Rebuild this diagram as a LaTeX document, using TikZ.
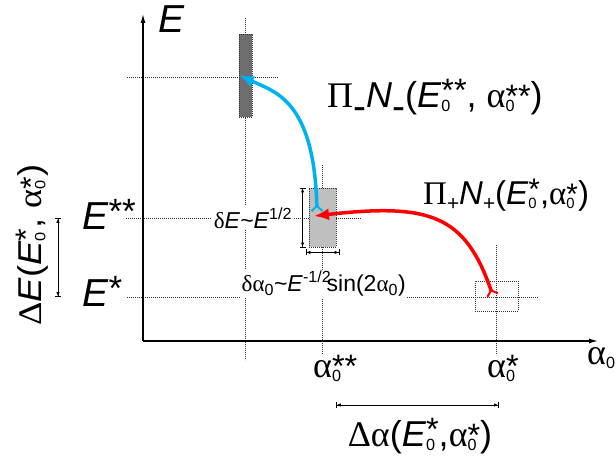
\documentclass[tikz,border=0pt]{standalone}
\usepackage{graphicx}
\usepackage{fontspec}
\setmainfont{Liberation Sans}
\newfontfamily\grk{Liberation Serif}
\usetikzlibrary{arrows.meta}
\definecolor{biru}{HTML}{00B0F0}
\definecolor{merah}{HTML}{FF0000}
% indeks atas dan bawah bertumpuk: #1 naik, #2 atas, #3 bawah
\newcommand{\ps}[3]{%
  \setbox0\hbox{\raisebox{#1}{\scalebox{0.9}{#2}}}%
  \setbox2\hbox{\raisebox{-0.1em}{\scalebox{0.45}{#3}}}%
  \ifdim\wd0<\wd2 \wd0=\wd2\fi\rlap{\box2}\box0}
\newcommand{\Es}[2]{\textit{E}\ps{0.17em}{#1}{#2}}
\newcommand{\as}[2]{{\grk α}\ps{0em}{#1}{#2}}
\tikzset{
  titik/.style={black!80, line width=0.8pt, dash pattern=on 0.8pt off 1.2pt},
  ukur/.style={line width=0.8pt, {Bar[width=6pt]Latex[length=4pt,width=3.5pt]}-{Latex[length=4pt,width=3.5pt]Bar[width=6pt]}},
  besar/.style={font=\fontsize{36}{40}\selectfont, inner sep=0pt},
  kecil/.style={font=\fontsize{23}{26}\selectfont, inner sep=1.5pt, fill=white},
  kotak/.style={draw=black!80, line width=0.8pt, dash pattern=on 0.8pt off 1.2pt, inner sep=0pt},
  lintasan/.style={line width=3.5pt, {Straight Barb[reversed,length=5pt,width=11pt,line width=2pt]}-{Latex[length=15pt,width=12pt]}},
}
\begin{document}
\begin{tikzpicture}[x=10pt, y=10pt]
  \useasboundingbox (-14.3,-11.6) rectangle (47.3,34.1);
  % garis bantu
  \draw[titik] (-1.6,26.4) -- (13.5,26.4);
  \draw[titik] (10.25,32.3) -- (10.25,-1.9);
  \draw[titik] (-1.7,12.3) -- (21.9,12.3);
  \draw[titik] (17.9,17.6) -- (17.9,-1.4);
  \draw[titik] (-1.6,4.4) -- (39.5,4.4);
  \draw[titik] (35.3,9.6) -- (35.3,-1.4);
  % kotak
  \node[kotak, fill=black!57, minimum width=13pt, minimum height=83pt] (kotakA) at (10.25,26.55) {};
  \node[kotak, fill=black!25, minimum width=27pt, minimum height=59pt] (kotakB) at (17.95,12.35) {};
  \node[kotak, minimum width=43pt, minimum height=30pt] (kotakC) at (35.35,4.5) {};
  % sumbu
  \draw[line width=1.2pt, -{Latex[length=9pt,width=5pt]}] (0,0) -- (0,32.7);
  \draw[line width=1.2pt, -{Latex[length=9pt,width=5pt]}] (0,0) -- (45.5,0);
  % label
  \node[besar, font=\fontsize{39}{42}\selectfont, anchor=base west] (labE) at (1.5,30.8) {\textit{E}};
  \node[besar, font=\fontsize{39}{42}\selectfont, anchor=base west] (labEbb) at (-6.1,11.1) {\Es{**}{}};
  \node[besar, font=\fontsize{39}{42}\selectfont, anchor=base west] (labEb) at (-6.1,3.4) {\Es{*}{}};
  \node[besar, font=\fontsize{33}{36}\selectfont, rotate=90, xscale=1.1, anchor=base] (labdE) at (-10.1,9.6)
    {{\grk Δ}\textit{E}(\Es{*}{0}, \as{*}{0})};
  \node[besar, anchor=base west] (labPm) at (18.4,23.3)
    {{\grk Π}\ps{-0.32em}{\scalebox{1.2}{-}}{}\textit{N}\ps{-0.32em}{\scalebox{1.2}{-}}{}(\Es{**}{0}, \as{**}{0})};
  \node[besar, font=\fontsize{33}{36}\selectfont, anchor=base west] (labPp) at (28.0,13.6)
    {{\grk Π}\ps{-0.17em}{\scalebox{0.7}{+}}{}\textit{N}\ps{-0.17em}{\scalebox{0.7}{+}}{}(\Es{*}{0},\as{*}{0})};
  \node[besar, anchor=base west] (laba2) at (17.0,-3.7) {\as{**}{0}};
  \node[besar, anchor=base west] (laba1) at (34.4,-3.7) {\as{*}{0}};
  \node[besar, anchor=base west] (laba0) at (44.4,-2.4) {\as{}{0}};
  \node[besar, anchor=base] (labda) at (27.7,-10.6)
    {{\grk Δα}(\Es{*}{0},\as{*}{0})};
  \node[kecil] (labdEk) at (11.0,12.3) {{\grk δ}\textit{E}\textasciitilde\textit{E}\textsuperscript{1/2}};
  \node[kecil, anchor=base west] (labdak) at (9.7,4.9)
    {{\grk δα}\textsubscript{0}\textasciitilde\textit{E}\textsuperscript{-1/2}\kern-0.2em sin(2{\grk α}\textsubscript{0})};
  % ukuran
  \coordinate (dEa) at (-8.5,12.3);
  \coordinate (dEb) at (-8.5,4.4);
  \coordinate (daa) at (19.3,-6.4);
  \coordinate (dab) at (35.6,-6.4);
  \draw[ukur] (dEa) -- (dEb);
  \draw[ukur] (daa) -- (dab);
  \draw[ukur] ([xshift=-6pt]kotakB.north west) -- ([xshift=-6pt]kotakB.south west);
  \draw[ukur] ([xshift=-3pt,yshift=-5pt]kotakB.south west) -- ([xshift=3pt,yshift=-5pt]kotakB.south east);
  % lintasan
  \coordinate (bA) at (17.4,12.9);
  \coordinate (tA) at (9.6,26.6);
  \coordinate (bB) at (35.0,4.5);
  \coordinate (tB) at (17.1,12.5);
  \draw[lintasan, biru] (bA) .. controls (17.1,24.1) and (13.2,24.9) .. (tA);
  \draw[lintasan, merah] (bB) .. controls (32.2,12.6) and (28.7,13.8) .. (tB);
\end{tikzpicture}
\end{document}
